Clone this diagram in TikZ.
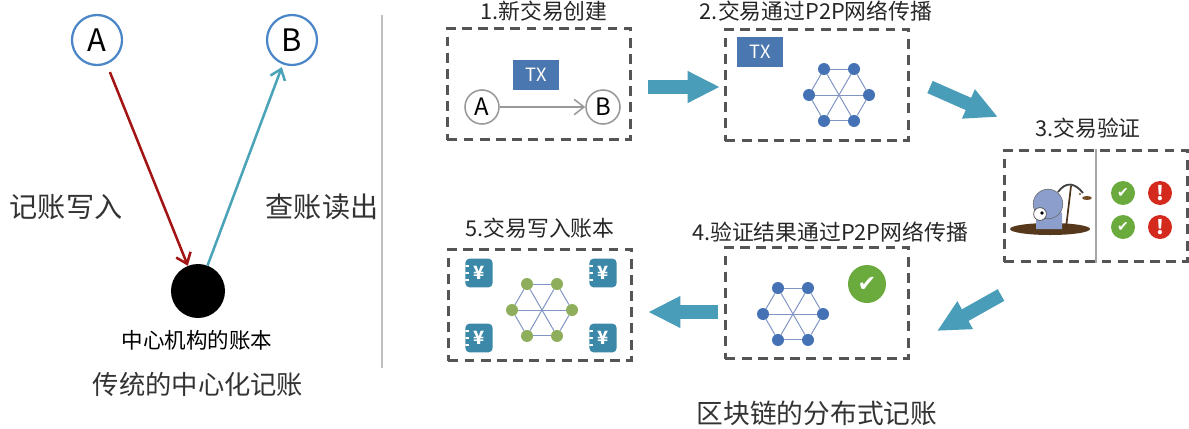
\documentclass[tikz,border=0pt]{standalone}
\usepackage{fontspec}
\setmainfont{Noto Sans CJK SC}
\newfontfamily\symb{DejaVu Sans}
\usepackage{tikz}
\usetikzlibrary{arrows.meta,positioning,calc}

\definecolor{ringblue}{HTML}{4A86C8}
\definecolor{writered}{HTML}{A31515}
\definecolor{readteal}{HTML}{4AA3B8}
\definecolor{flowteal}{HTML}{4A9DB8}
\definecolor{txblue}{HTML}{4B77B0}
\definecolor{peerblue}{HTML}{4472B4}
\definecolor{peergreen}{HTML}{8FAE5C}
\definecolor{linkblue}{HTML}{8095C4}
\definecolor{bookteal}{HTML}{3C88A8}
\definecolor{okgreen}{HTML}{6BAA3C}
\definecolor{badred}{HTML}{D42A1E}
\definecolor{boxgray}{HTML}{555555}
\definecolor{inkgray}{HTML}{333333}
\definecolor{minerblue}{HTML}{8C9FCC}

% six peers on a ring, joined round the ring and across
\newcommand{\peerring}[3]{%
  \begin{scope}[shift={#1}]
    \foreach \k in {1,...,6}
      \node[peer,fill=#3] (#2\k) at (\k*60:30) {};
  \end{scope}
  \foreach \k in {1,...,6}{
    \pgfmathtruncatemacro\nx{mod(\k,6)+1}
    \draw[link] (#2\k) -- (#2\nx);}
  \foreach \k in {1,2,3}{
    \pgfmathtruncatemacro\op{\k+3}
    \draw[link] (#2\k) -- (#2\op);}
}

\begin{document}
\begin{tikzpicture}[x=0.025cm,y=-0.025cm,
  who/.style={circle,draw=ringblue,line width=1.6pt,minimum size=1.25cm,inner sep=0pt,font=\fontsize{22}{22}\selectfont},
  party/.style={circle,draw=gray!80,line width=1.1pt,minimum size=0.85cm,inner sep=0pt,font=\fontsize{17}{17}\selectfont},
  stepbox/.style={draw=boxgray,line width=1.8pt,dash pattern=on 7pt off 4.5pt,minimum width=4.575cm,minimum height=2.775cm,inner sep=0pt},
  steptitle/.style={anchor=base,text=black!85,font=\fontsize{15.5}{18}\selectfont},
  caption/.style={text=inkgray,font=\fontsize{19}{22}\selectfont},
  tx/.style={fill=txblue,text=white,minimum width=1.15cm,minimum height=0.75cm,inner sep=0pt,font=\fontsize{13}{13}\selectfont},
  peer/.style={circle,fill=peerblue,minimum size=0.3cm,inner sep=0pt},
  link/.style={linkblue,line width=0.7pt},
  flow/.style={flowteal,line width=9.5pt,-{Triangle[length=23pt,width=21pt]}},
  ledger/.style={fill=bookteal,rounded corners=3pt,text=white,minimum width=0.68cm,minimum height=0.72cm,inner sep=0pt,
    font=\bfseries\fontsize{13}{13}\selectfont,
    path picture={\foreach \t in {0.25,0.5,0.75}
      \draw[white,line width=1.2pt] ($(path picture bounding box.north west)!\t!(path picture bounding box.south west)$) -- ++(2.5pt,0pt);}},
  okmark/.style={circle,fill=okgreen,text=white,minimum size=0.6cm,inner sep=0pt,font=\symb\fontsize{10}{10}\selectfont},
  badmark/.style={circle,fill=badred,text=white,minimum size=0.6cm,inner sep=0pt,font=\bfseries\fontsize{14}{14}\selectfont},
  tip/.style={-{Straight Barb[length=7pt,width=11pt]}}
]
\useasboundingbox (0,0) rectangle (1189,428);

% central ledger
\node[who] (A) at (97,40) {A};
\node[who] (B) at (292,40) {B};
\node[circle,fill=black,minimum size=1.35cm,inner sep=0pt] (hub) at (198,291) {};
\draw[tip,writered,line width=1.8pt,shorten <=6pt] (A) -- (hub);
\draw[tip,readteal,line width=1.8pt,shorten >=2pt] (hub) -- (B);
\node[caption,font=\fontsize{20}{24}\selectfont] (write) at (66,207) {记账写入};
\node[caption,font=\fontsize{20}{24}\selectfont] (read) at (322,207) {查账读出};
\node[font=\fontsize{15.3}{18}\selectfont] (hubname) at (197,340) {中心机构的账本};
\node[caption,font=\fontsize{18.7}{22}\selectfont] (central) at (198,385) {传统的中心化记账};

\draw[gray!50,line width=1pt] (382,15) -- (382,368);

% the five steps
\node[stepbox] (s1) at (539,84) {};
\node[stepbox] (s2) at (817,85) {};
\node[stepbox] (s3) at (1096,206) {};
\node[stepbox] (s4) at (817,303) {};
\node[stepbox] (s5) at (540,305) {};

\node[steptitle] (t1) at (544,19) {1.新交易创建};
\node[steptitle] (t2) at (816,19) {2.交易通过P2P网络传播};
\node[steptitle] (t3) at (1088,136) {3.交易验证};
\node[steptitle] (t4) at (830,240) {4.验证结果通过P2P网络传播};
\node[steptitle] (t5) at (540,236) {5.交易写入账本};

% step 1
\node[tx] (tx1) at (536,75) {TX};
\node[party] (pa) at (482,107) {A};
\node[party] (pb) at (603,107) {B};
\draw[tip,gray!80,line width=1.1pt] (pa) -- (pb);

% step 2
\node[tx] (tx2) at (760,52) {TX};
\peerring{(839,95)}{n}{peerblue}

% step 3
\draw[gray!70,line width=1pt] (s3.north) -- (s3.south);
\fill[brown!45!black] (1050,229) ellipse [x radius=1cm,y radius=0.15cm];
\fill[minerblue] (1036,229) -- (1036,214) to[out=90,in=90] (1062,214) -- (1062,229) -- cycle;
\filldraw[fill=minerblue,draw=black!60,line width=0.4pt] (1048,204) circle [radius=0.37cm];
\filldraw[fill=white,draw=black!70,line width=0.5pt] (1040,214) circle [radius=0.16cm];
\fill[black] (1042,213) circle [radius=0.045cm];
\draw[brown!40!black,line width=1.2pt] (1066,228) -- (1071,186);
\draw[black!75,line width=1.3pt] (1058,192) .. controls (1066,181) and (1075,183) .. (1083,193);
\fill[brown!60!black] (1087,198) ellipse [x radius=0.12cm,y radius=0.05cm];
\fill[brown!60!black] (1080,194) circle [radius=0.03cm];
\node[okmark] (ok1) at (1123,193) {✔};
\node[badmark] (bad1) at (1160,193) {!};
\node[okmark] (ok2) at (1123,227) {✔};
\node[badmark] (bad2) at (1160,227) {!};

% step 4
\peerring{(793,314)}{m}{peerblue}
\node[okmark,minimum size=0.95cm,font=\symb\fontsize{16}{16}\selectfont] (okbig) at (867,284) {✔};

% step 5
\peerring{(542,310)}{g}{peergreen}
\node[ledger] (y1) at (479,273) {¥};
\node[ledger] (y2) at (603,273) {¥};
\node[ledger] (y3) at (479,338) {¥};
\node[ledger] (y4) at (603,338) {¥};

% flow between the steps
\coordinate (f1a) at (648,87);   \coordinate (f1b) at (720,87);
\coordinate (f2a) at (930,87);   \coordinate (f2b) at (998,117);
\coordinate (f3a) at (1001,295); \coordinate (f3b) at (937,331);
\coordinate (f4a) at (718,312);  \coordinate (f4b) at (648,312);
\draw[flow] (f1a) -- (f1b);
\draw[flow] (f2a) -- (f2b);
\draw[flow] (f3a) -- (f3b);
\draw[flow] (f4a) -- (f4b);

\node[caption] (dist) at (817,413) {区块链的分布式记账};
\end{tikzpicture}
\end{document}
